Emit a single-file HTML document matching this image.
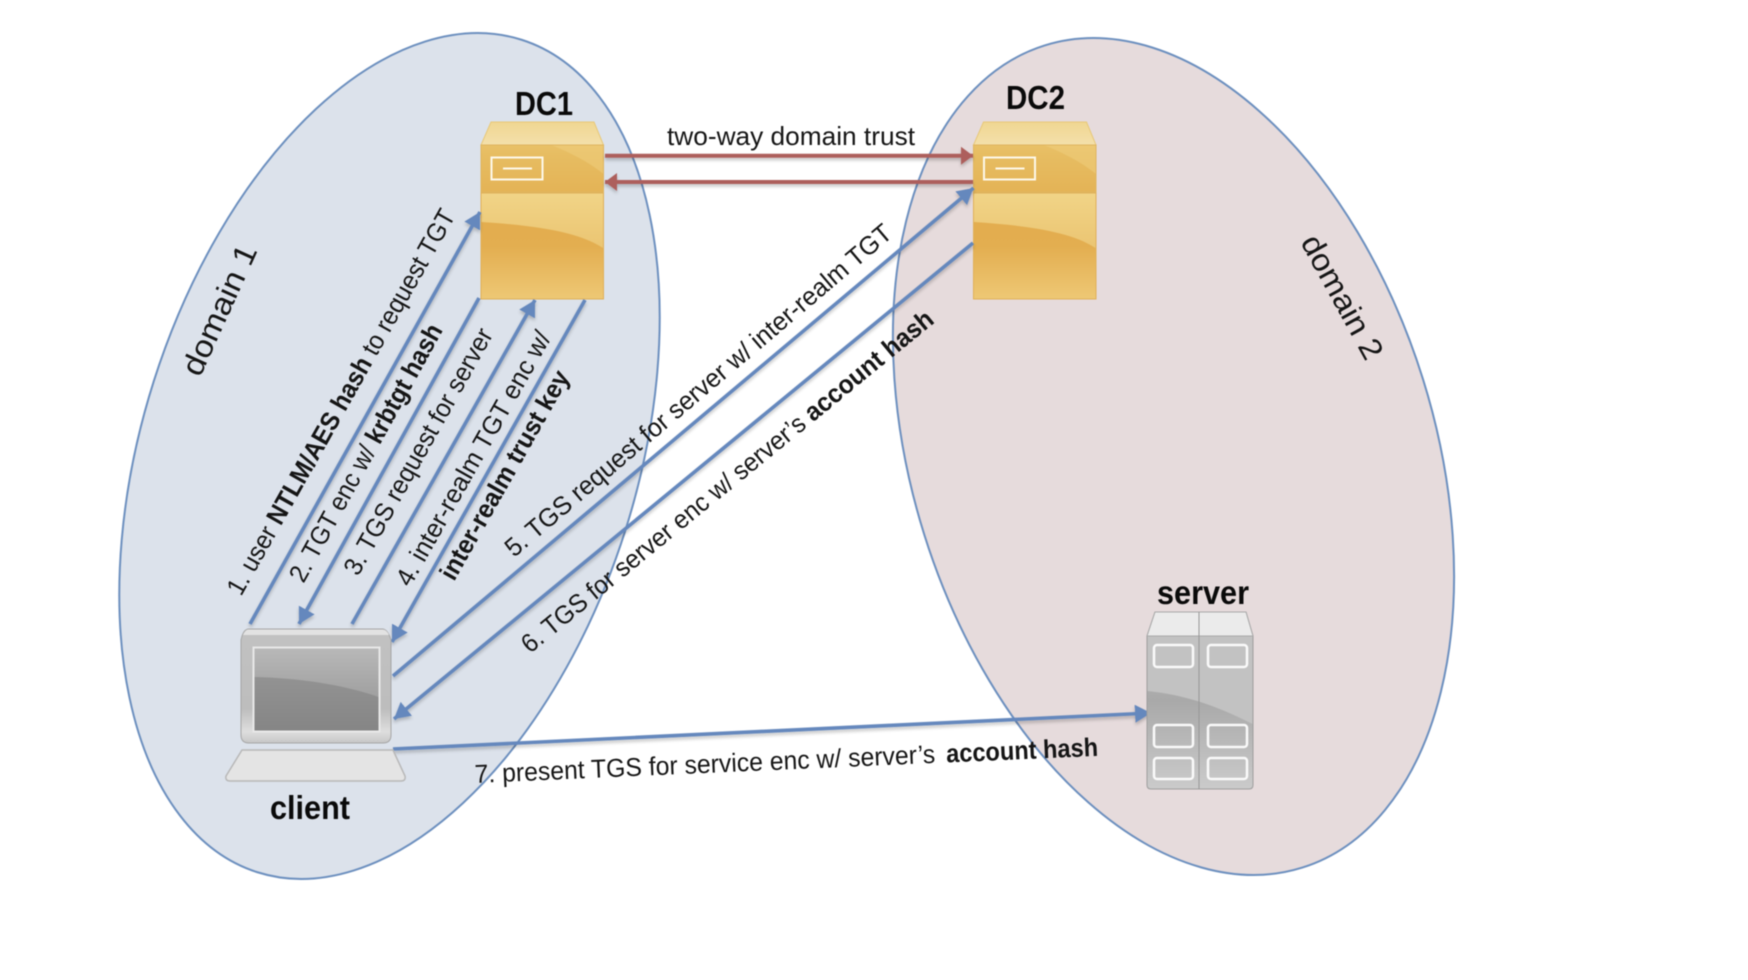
<!DOCTYPE html>
<html><head><meta charset="utf-8"><title>Inter-realm Kerberos</title>
<style>html,body{margin:0;padding:0;background:#fff}svg{display:block;filter:blur(.6px)}
text{font-family:"Liberation Sans",sans-serif;fill:#151515;font-size:26px}
.b{font-weight:bold}.l{font-size:33px;font-weight:bold;fill:#0a0a0a}
.bl{fill:none;stroke:#6588bd;stroke-width:3.600}
.rd{fill:none;stroke:#ad5f5b;stroke-width:4}</style></head><body>
<svg width="1748" height="980" viewBox="0 0 1748 980" xmlns="http://www.w3.org/2000/svg">
<defs>
<filter id="sh" x="-10%" y="-10%" width="120%" height="120%"><feDropShadow dx="0" dy="2.500" stdDeviation="1.500" flood-color="#000" flood-opacity=".22"/></filter>
<marker id="ab" markerUnits="userSpaceOnUse" markerWidth="20" markerHeight="20" refX="16" refY="9" orient="auto"><path d="M0 0L16 9L0 18Z" fill="#6588bd"/></marker>
<marker id="ar" markerUnits="userSpaceOnUse" markerWidth="18" markerHeight="20" refX="12" refY="9" orient="auto"><path d="M0 0L12 9L0 18Z" fill="#ad5f5b"/></marker>
<linearGradient id="gt" x1="0" y1="0" x2="0" y2="1"><stop offset="0" stop-color="#f0d792"/><stop offset="1" stop-color="#f4e0ab"/></linearGradient>
<linearGradient id="gu" x1="0" y1="0" x2="0" y2="1"><stop offset="0" stop-color="#eecb78"/><stop offset=".45" stop-color="#e7bd62"/><stop offset="1" stop-color="#e4b356"/></linearGradient>
<linearGradient id="gl" x1="0" y1="0" x2="0" y2="1"><stop offset="0" stop-color="#e3ac4e"/><stop offset=".5" stop-color="#e3ae50"/><stop offset="1" stop-color="#eec875"/></linearGradient>
<linearGradient id="gg" x1="0" y1="0" x2="0" y2="1"><stop offset="0" stop-color="#f1d487"/><stop offset="1" stop-color="#ebc572"/></linearGradient>
<linearGradient id="gs" x1="0" y1="0" x2="0" y2="1"><stop offset="0" stop-color="#c2c2c2"/><stop offset=".7" stop-color="#bdbdbd"/><stop offset=".9" stop-color="#dedede"/><stop offset="1" stop-color="#c6c6c6"/></linearGradient>
<linearGradient id="gd" x1="0" y1="0" x2="0" y2="1"><stop offset="0" stop-color="#9a9a9a"/><stop offset="1" stop-color="#858585"/></linearGradient>
<linearGradient id="gd2" x1="0" y1="0" x2="0" y2="1"><stop offset="0" stop-color="#b8b8b8"/><stop offset="1" stop-color="#a0a0a0"/></linearGradient>
<linearGradient id="gv" x1="0" y1="0" x2="0" y2="1"><stop offset="0" stop-color="#c4c4c4"/><stop offset=".5" stop-color="#a9a9a9"/><stop offset="1" stop-color="#cbcbcb"/></linearGradient>
<g id="dc">
<path d="M10 0H113L122.500 23V71H0V23Z" fill="url(#gu)"/>
<path d="M70 23H122.500V52C108 40 88 30 70 23Z" fill="#f0d080" opacity=".5"/>
<path d="M10 0H113L122.500 23H0Z" fill="url(#gt)" stroke="#e8c878" stroke-width="1"/>
<path d="M0 23H122.500V70H0Z" fill="none" stroke="#dfb55f" stroke-width="1"/>
<path d="M0 71H122.500V177H0Z" fill="url(#gl)" stroke="#e0b058" stroke-width="1"/>
<path d="M.5 71.500H122V126C95 108 45 103 .5 100Z" fill="url(#gg)"/>
<rect x="10.500" y="35.500" width="51" height="22" fill="none" stroke="#fdf8ea" stroke-width="2"/>
<path d="M22 46.500H51" stroke="#fdf8ea" stroke-width="2"/>
</g>
</defs>

<ellipse cx="389.500" cy="456" rx="247.300" ry="436.700" transform="rotate(17.600 389.500 456)" fill="#dce2eb" stroke="#6d90bf" stroke-width="2"/>
<ellipse cx="1173.500" cy="456.500" rx="261.200" ry="430.800" transform="rotate(-17.400 1173.500 456.500)" fill="#e6dbdc" stroke="#6d90bf" stroke-width="2"/>

<use href="#dc" x="481" y="122"/>
<use href="#dc" x="973.500" y="122"/>

<g filter="url(#sh)">
<path class="rd" d="M605 155.700H973" marker-end="url(#ar)"/>
<path class="rd" d="M973 182H605" marker-end="url(#ar)"/>
<path class="bl" d="M250 624L480 212" marker-end="url(#ab)"/>
<path class="bl" d="M479 298L299 624" marker-end="url(#ab)"/>
<path class="bl" d="M352 624L535 300" marker-end="url(#ab)"/>
<path class="bl" d="M585 300L392 642" marker-end="url(#ab)"/>
<path class="bl" d="M393 676L973.500 188" marker-end="url(#ab)"/>
<path class="bl" d="M973 243L394 719" marker-end="url(#ab)"/>
<path class="bl" d="M393 749L1151 713" marker-end="url(#ab)"/>
</g>

<!-- laptop -->
<path d="M248 629H383Q388 630 391 640V735Q391 743 383 743H249Q241 743 241 735V640Q243 630 248 629Z" fill="url(#gs)" stroke="#a6a6a6" stroke-width="1"/>
<path d="M248 629.500H383Q387 630 389 635H243Q245 630 248 629.500Z" fill="#e2e2e2"/>
<rect x="253.500" y="647.500" width="126" height="84" fill="url(#gd)" stroke="#e8e8e8" stroke-width="2"/>
<path d="M254.500 648.500H378.500V697C345 685 300 678 254.500 677Z" fill="url(#gd2)"/>
<path d="M242 750H393L405 776Q406 781 401 781H230Q225 781 226 776Z" fill="#e4e4e4" stroke="#b8b8b8" stroke-width="1.500"/>

<!-- server -->
<path d="M1155 612H1246L1253 636V785Q1253 789 1249 789H1151Q1147 789 1147 785V636Z" fill="url(#gv)" stroke="#9e9e9e" stroke-width="1"/>
<path d="M1147.500 636H1252.500V724C1215 705 1185 695 1147.500 691Z" fill="#c2c2c2"/>
<path d="M1155 612H1246L1253 636H1147Z" fill="#ebebeb" stroke="#a9a9a9" stroke-width="1"/>
<path d="M1199 612V789" stroke="#979797" stroke-width="1"/>
<g fill="none" stroke="#fafafa" stroke-width="2.500">
<rect x="1154" y="645" width="39" height="22" rx="3"/><rect x="1208" y="645" width="39" height="22" rx="3"/>
<rect x="1154" y="725" width="39" height="22" rx="3"/><rect x="1208" y="725" width="39" height="22" rx="3"/>
<rect x="1154" y="758" width="39" height="21" rx="3"/><rect x="1208" y="758" width="39" height="21" rx="3"/>
</g>

<text class="l" x="515" y="115" textLength="58" lengthAdjust="spacingAndGlyphs">DC1</text>
<text class="l" x="1006" y="109" textLength="59" lengthAdjust="spacingAndGlyphs">DC2</text>
<text class="l" x="270" y="819" textLength="80" lengthAdjust="spacingAndGlyphs">client</text>
<text class="l" x="1157" y="604" textLength="92" lengthAdjust="spacingAndGlyphs">server</text>

<text x="667" y="145" textLength="248" lengthAdjust="spacingAndGlyphs">two-way domain trust</text>
<text transform="translate(200 378) rotate(-65.600)" style="font-size:31px" textLength="140" lengthAdjust="spacingAndGlyphs">domain 1</text>
<text transform="translate(1300 242) rotate(61.200)" style="font-size:31px" textLength="137" lengthAdjust="spacingAndGlyphs">domain 2</text>

<text transform="translate(241 597) rotate(-60.600)" textLength="438" lengthAdjust="spacingAndGlyphs">1. user <tspan class="b">NTLM/AES hash</tspan> to request TGT</text>
<text transform="translate(303.500 584) rotate(-61.200)" textLength="290" lengthAdjust="spacingAndGlyphs">2. TGT enc w/ <tspan class="b">krbtgt hash</tspan></text>
<text transform="translate(358 577) rotate(-60.800)" textLength="278" lengthAdjust="spacingAndGlyphs">3. TGS request for server</text>
<text transform="translate(410 588) rotate(-60.500)" textLength="288" lengthAdjust="spacingAndGlyphs">4. inter-realm TGT enc w/</text>
<text class="b" transform="translate(454 582) rotate(-60.500)" textLength="236" lengthAdjust="spacingAndGlyphs">inter-realm trust key</text>
<text transform="translate(514 558) rotate(-40.300)" textLength="498" lengthAdjust="spacingAndGlyphs">5. TGS request for server w/ inter-realm TGT</text>
<text transform="translate(530 654) rotate(-39.300)" textLength="524" lengthAdjust="spacingAndGlyphs">6. TGS for server enc w/ server’s <tspan class="b">account hash</tspan></text>
<text transform="translate(475 783) rotate(-2.500)" textLength="461" lengthAdjust="spacingAndGlyphs">7. present TGS for service enc w/ server’s</text>
<text class="b" transform="translate(946.500 762.500) rotate(-2.500)" textLength="152" lengthAdjust="spacingAndGlyphs">account hash</text>
</svg></body></html>
